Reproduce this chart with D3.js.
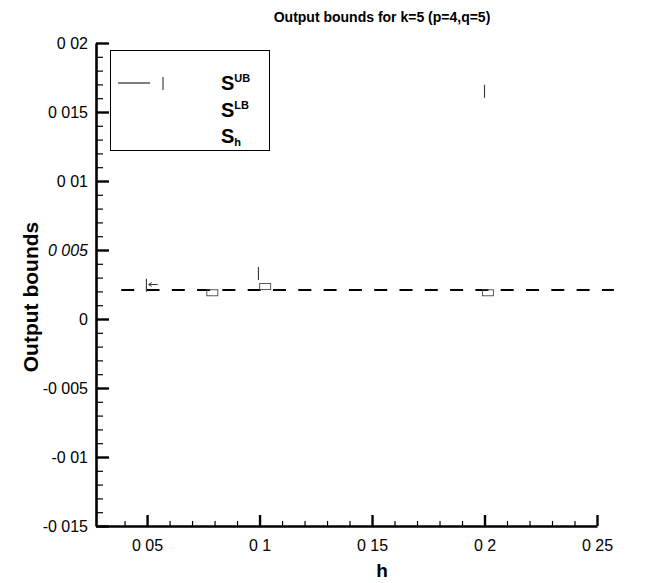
<!DOCTYPE html>
<html>
<head>
<meta charset="utf-8">
<script src="https://cdn.jsdelivr.net/npm/d3@7"></script>
<style>
  html, body { margin: 0; padding: 0; background: #fff; }
  svg text { font-family: "Liberation Sans", Arial, sans-serif; fill: #000; }
</style>
</head>
<body>
<svg id="chart" width="651" height="583"></svg>
<script>
// ---- data ----
const xTicks = [0.05, 0.1, 0.15, 0.2, 0.25];
const xTickLabels = ["0 05", "0 1", "0 15", "0 2", "0 25"];
const xMinor = [0.04, 0.06, 0.07, 0.08, 0.09, 0.11, 0.12, 0.13, 0.14, 0.16, 0.17, 0.18, 0.19, 0.21, 0.22, 0.23, 0.24];
const yTicks = [0.02, 0.015, 0.01, 0.005, 0, -0.005, -0.01, -0.015];
const yTickLabels = ["0 02", "0 015", "0 01", "0 005", "0", "-0 005", "-0 01", "-0 015"];
const yMinor = [0.019, 0.018, 0.017, 0.016, 0.014, 0.013, 0.012, 0.011, 0.009, 0.008, 0.007, 0.006,
  0.004, 0.003, 0.002, 0.001, -0.001, -0.002, -0.003, -0.004, -0.006, -0.007, -0.008, -0.009,
  -0.011, -0.012, -0.013, -0.014];

// S^UB markers (vertical ticks)
const hUB = [0.0497, 0.0995, 0.2];
const sUB = [0.00245, 0.0033, 0.0165];
// S^LB markers (small open boxes)
const hLB = [0.079, 0.1025, 0.2015];
const sLB = [0.0019, 0.00235, 0.0019];
// small arrow glyph near h=0.05
const hArrow = [0.0525];
const sArrow = [0.0025];
// S_h dashed line
const hSh = [0.0385, 0.2575];
const sSh = [0.0021, 0.0021];

const legendLabels = [["S", "UB", "sup"], ["S", "LB", "sup"], ["S", "h", "sub"]];

// ---- layout ----
const svg = d3.select("#chart");
const x = d3.scaleLinear().domain([0.0273, 0.25]).range([96, 597]);
const y = d3.scaleLinear().domain([-0.015, 0.02]).range([526, 43]);
const x0 = 96, yBottom = 526;
const tickFont = "16px";

// title
svg.append("text").attr("x", 382).attr("y", 22).attr("text-anchor", "middle")
  .style("font-size", "14px").style("font-weight", "bold")
  .text("Output bounds for k=5 (p=4,q=5)");

// y axis
const yAxis = d3.axisLeft(y).tickValues(yTicks)
  .tickFormat((d, i) => yTickLabels[i]).tickSize(-13).tickPadding(8).tickSizeOuter(0);
const gy = svg.append("g").attr("transform", `translate(${x0},0)`).call(yAxis);
gy.select(".domain").attr("stroke-width", 2.6);
gy.selectAll(".tick line").attr("stroke-width", 2.4);
gy.selectAll(".tick text").style("font-size", tickFont).style("font-family", "Liberation Sans, Arial, sans-serif")
  .attr("dy", "0.36em");
gy.selectAll(".tick text").filter(d => d === 0.005).style("font-style", "italic");

const yAxisMinor = d3.axisLeft(y).tickValues(yMinor).tickFormat("").tickSize(-7).tickSizeOuter(0);
const gym = svg.append("g").attr("transform", `translate(${x0},0)`).call(yAxisMinor);
gym.select(".domain").remove();
gym.selectAll(".tick line").attr("stroke-width", 1.2);

// x axis
const xAxis = d3.axisBottom(x).tickValues(xTicks)
  .tickFormat((d, i) => xTickLabels[i]).tickSize(-11).tickPadding(14).tickSizeOuter(0);
const gx = svg.append("g").attr("transform", `translate(0,${yBottom})`).call(xAxis);
gx.select(".domain").attr("stroke-width", 2.6);
gx.selectAll(".tick line").attr("stroke-width", 2.4);
gx.selectAll(".tick text").style("font-size", tickFont).style("font-family", "Liberation Sans, Arial, sans-serif");

const xAxisMinor = d3.axisBottom(x).tickValues(xMinor).tickFormat("").tickSize(-5).tickSizeOuter(0);
const gxm = svg.append("g").attr("transform", `translate(0,${yBottom})`).call(xAxisMinor);
gxm.select(".domain").remove();
gxm.selectAll(".tick line").attr("stroke-width", 1.2);

// axis titles
svg.append("text").attr("x", 382).attr("y", 577).attr("text-anchor", "middle")
  .style("font-size", "19px").style("font-weight", "bold").text("h");
svg.append("text").attr("transform", "translate(38,297) rotate(-90)").attr("text-anchor", "middle")
  .style("font-size", "21px").style("font-weight", "bold").text("Output bounds");

// S_h dashed line
const line = d3.line().x(d => x(d[0])).y(d => y(d[1]));
svg.append("path").datum(hSh.map((h, i) => [h, sSh[i]]))
  .attr("d", line).attr("fill", "none").attr("stroke", "#000")
  .attr("stroke-width", 2.2).attr("stroke-dasharray", "13,12.3");

// S^UB tick markers
svg.append("g").selectAll("line").data(hUB.map((h, i) => [h, sUB[i]])).join("line")
  .attr("x1", d => x(d[0])).attr("x2", d => x(d[0]))
  .attr("y1", d => y(d[1]) - 6.5).attr("y2", d => y(d[1]) + 6.5)
  .attr("stroke", "#333").attr("stroke-width", 1.1);

// S^LB box markers
svg.append("g").selectAll("rect").data(hLB.map((h, i) => [h, sLB[i]])).join("rect")
  .attr("x", d => x(d[0]) - 5.5).attr("y", d => y(d[1]) - 3)
  .attr("width", 11).attr("height", 6)
  .attr("fill", "none").attr("stroke", "#444").attr("stroke-width", 0.9);

// arrow glyph
const ga = svg.append("g").selectAll("g").data(hArrow.map((h, i) => [h, sArrow[i]])).join("g");
ga.append("line").attr("x1", d => x(d[0]) - 4).attr("x2", d => x(d[0]) + 5)
  .attr("y1", d => y(d[1])).attr("y2", d => y(d[1])).attr("stroke", "#333").attr("stroke-width", 1);
ga.append("path").attr("d", d => `M${x(d[0]) - 4},${y(d[1])} l3,-2 M${x(d[0]) - 4},${y(d[1])} l3,2`)
  .attr("stroke", "#333").attr("stroke-width", 1).attr("fill", "none");

// legend
const lg = svg.append("g");
lg.append("rect").attr("x", 110.5).attr("y", 50.5).attr("width", 159).attr("height", 100)
  .attr("fill", "none").attr("stroke", "#000").attr("stroke-width", 1);
lg.append("line").attr("x1", 118).attr("x2", 150).attr("y1", 83).attr("y2", 83)
  .attr("stroke", "#000").attr("stroke-width", 1);
lg.append("line").attr("x1", 163).attr("x2", 163).attr("y1", 77).attr("y2", 90)
  .attr("stroke", "#333").attr("stroke-width", 1.1);
legendLabels.forEach((lab, i) => {
  const t = lg.append("text").attr("x", 221).attr("y", 90 + i * 26.5)
    .style("font-size", "20px").style("font-weight", "bold");
  t.append("tspan").text(lab[0]);
  t.append("tspan").attr("dy", lab[2] === "sup" ? -8 : 3).style("font-size", "11px").text(lab[1]);
});
</script>
</body>
</html>
